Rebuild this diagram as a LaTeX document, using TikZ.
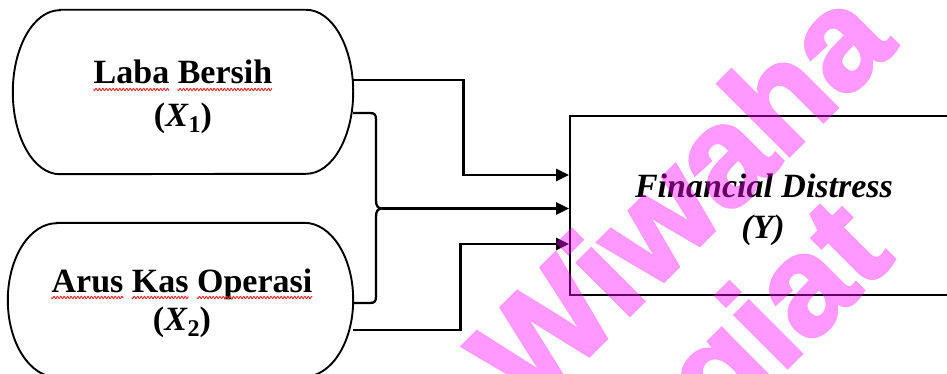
\documentclass[tikz,border=0pt]{standalone}
\usepackage{fontspec}
\setmainfont{Liberation Serif}
\newfontfamily\stampfont{Liberation Sans}[BoldFeatures={FakeBold=2.5}]
\usetikzlibrary{arrows.meta}

\definecolor{spellred}{RGB}{235,40,40}
\definecolor{stampmagenta}{RGB}{255,0,255}
\newcommand\labfont{\fontsize{34}{40}\selectfont\bfseries}
\newcommand\subfont{\fontsize{24}{24}\selectfont\bfseries}
% variable symbol with lowered index, set as bold text
\newcommand\varsym[2]{(\textit{#1}\raisebox{-6pt}{\subfont #2})}
% red wavy spell-check mark under one word of a text node:
% #1 node, #2 offset of the word from the line start, #3 word width
% (wave period 3.4pt: 360/3.4 = 105.88 degrees per pt)
\newcommand\spellwave[3]{%
  \draw[spell, shift={([xshift=#2pt, yshift=-5.5pt]#1.base west)}]
    plot[domain=0:#3, samples=300] (\x, {1.1*sin(\x*105.88)});}

% stadium outline with elliptical ends around a named node
\newcommand\stadiumoutline[3]{%
  \draw[outline] ([xshift=#2]#1.north west) -- ([xshift=-#2]#1.north east)
    arc[start angle=90,end angle=-90,x radius=#2,y radius=#3]
    -- ([xshift=#2]#1.south west)
    arc[start angle=270,end angle=90,x radius=#2,y radius=#3] -- cycle;}

\tikzset{
  outline/.style={line width=1.9pt, black},
  frame/.style={draw=none, inner sep=0pt},
  varbox/.style={draw, line width=1.9pt, inner sep=0pt},
  label34/.style={inner sep=0pt, anchor=base, font=\labfont},
  labelit/.style={inner sep=0pt, anchor=base, font=\labfont\itshape},
  link/.style={line width=2.8pt, -{Triangle[length=13pt,width=12pt]}},
  brace/.style={line width=2.3pt},
  spell/.style={draw=spellred, line width=0.9pt},
  stamp/.style={inner sep=0pt, text=stampmagenta,
    font=\stampfont\fontsize{140}{140}\selectfont\bfseries},
}

\begin{document}
\begin{tikzpicture}[x=1pt,y=-1pt]
\useasboundingbox (0,0) rectangle (947,374);
\clip (0,0) rectangle (947,374);
\fill[white] (0,0) rectangle (947,374);

% independent variables
\node[frame, minimum width=340pt, minimum height=164pt] (x1) at (183,92) {};
\stadiumoutline{x1}{47pt}{82pt}
\node[label34] (x1a) at (183,84) {Laba Bersih};
\node[label34] (x1b) at (183,127) {\varsym{X}{1}};
\spellwave{x1a}{0}{75.6}
\spellwave{x1a}{84.1}{94.5}

\node[frame, minimum width=345pt, minimum height=154pt] (x2) at (180.5,300) {};
\stadiumoutline{x2}{49pt}{77pt}
\node[label34] (x2a) at (182,292) {Arus Kas Operasi};
\node[label34] (x2b) at (182,330) {\varsym{X}{2}};
\spellwave{x2a}{0}{71.8}
\spellwave{x2a}{80.3}{56.7}
\spellwave{x2a}{145.5}{115.2}

% dependent variable
\node[varbox, minimum width=388pt, minimum height=179pt] (Y) at (764,205.5) {};
\node[labelit] (ya) at (764,197) {Financial Distress};
\node[labelit] (yb) at (763,238) {(Y)};

\coordinate (in1) at ([yshift=30.5pt]Y.west);
\coordinate (in3) at ([yshift=-38.5pt]Y.west);
\coordinate (tip) at (382,208.5);

% partial effects
\draw[link] ([yshift=12pt]x1.east) -- ++(110,0) |- (in1);
\draw[link] ([yshift=-30pt]x2.east) -- ++(107,0) |- (in3);

% joint effect
\draw[brace] (353,113) -- (370,113) .. controls (375,113) and (376,115) .. (376,120)
  -- (376,200) .. controls (376,206) and (377.5,208) .. (tip)
  .. controls (377.5,209) and (376,211) .. (376,217)
  -- (376,296) .. controls (376,301) and (375,303) .. (370,303) -- (353,303);
\draw[link] (tip) -- (tip -| Y.west);

% watermark, flattened before being made translucent
\begin{scope}[transparency group, opacity=0.4]
\node[stamp, anchor=base, rotate=45] (wm1) at (714.3,230.7) {Wiwaha};
\node[stamp, anchor=base east, rotate=45] (wm2) at (896.4,258.6) {giat};
\end{scope}
\end{tikzpicture}
\end{document}
